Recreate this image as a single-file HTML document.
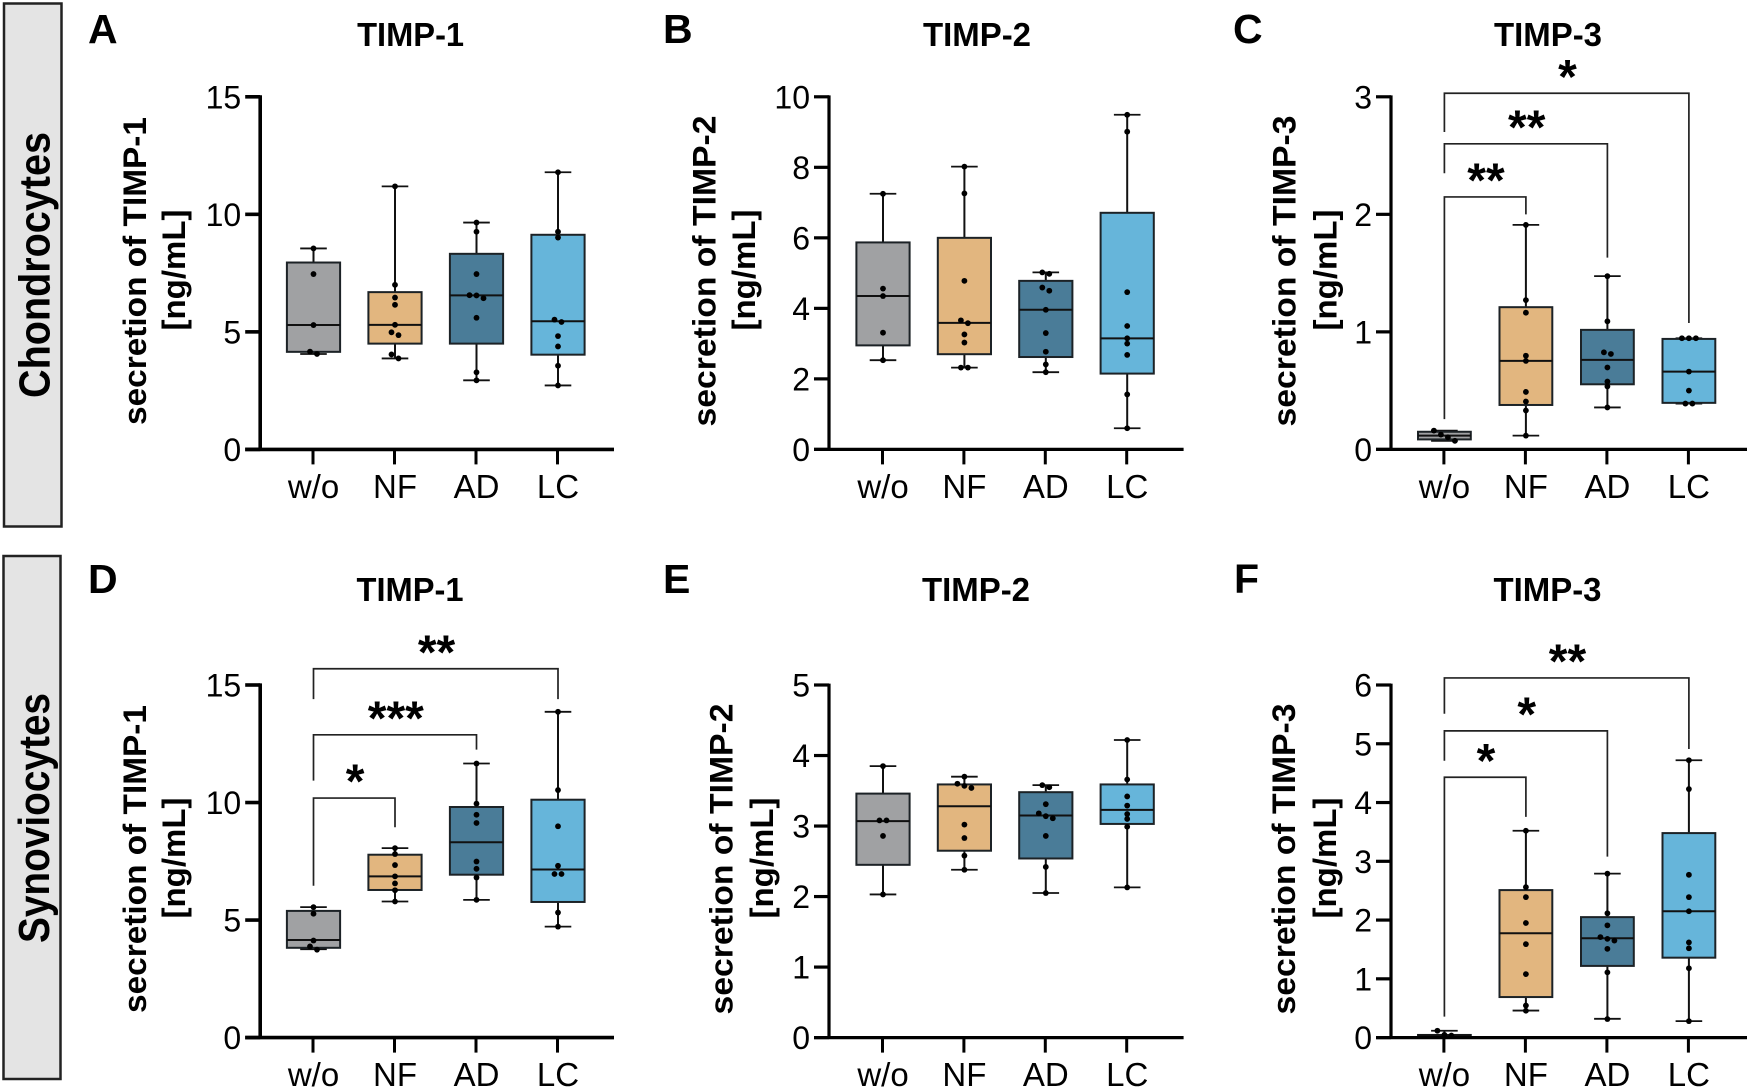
<!DOCTYPE html>
<html lang="en">
<head>
<meta charset="utf-8">
<title>TIMP secretion box plots</title>
<style>
html,body{margin:0;padding:0;background:#fff;}
svg{display:block;}
text{font-family:"Liberation Sans",Arial,sans-serif;fill:#000;}
.title{font-weight:700;font-size:33px;text-anchor:middle;}
.letter{font-weight:700;font-size:41px;}
.ytitle{font-weight:700;font-size:32px;text-anchor:middle;}
.side{font-weight:700;font-size:44px;text-anchor:middle;}
</style>
</head>
<body>
<svg id="figure" xmlns="http://www.w3.org/2000/svg" width="1748" height="1090" viewBox="0 0 1748 1090">
  <rect x="4" y="3.5" width="57.5" height="523" fill="#e4e4e4" stroke="#222" stroke-width="2.5"/>
  <text class="side" transform="translate(49.5 265) rotate(-90)" textLength="266" lengthAdjust="spacingAndGlyphs">Chondrocytes</text>
  <rect x="3.5" y="556" width="57" height="523" fill="#e4e4e4" stroke="#222" stroke-width="2.5"/>
  <text class="side" transform="translate(49 818) rotate(-90)" textLength="250" lengthAdjust="spacingAndGlyphs">Synoviocytes</text>

  <text class="letter" x="88" y="43">A</text>
  <text class="letter" x="663" y="43">B</text>
  <text class="letter" x="1233" y="43">C</text>
  <text class="letter" x="88" y="593">D</text>
  <text class="letter" x="663" y="593">E</text>
  <text class="letter" x="1234" y="593">F</text>

  <text class="title" x="410.6" y="46" textLength="107" lengthAdjust="spacingAndGlyphs">TIMP-1</text>
  <text class="title" x="977" y="46" textLength="108" lengthAdjust="spacingAndGlyphs">TIMP-2</text>
  <text class="title" x="1548" y="46" textLength="108" lengthAdjust="spacingAndGlyphs">TIMP-3</text>
  <text class="title" x="410" y="601" textLength="107" lengthAdjust="spacingAndGlyphs">TIMP-1</text>
  <text class="title" x="976" y="601" textLength="108" lengthAdjust="spacingAndGlyphs">TIMP-2</text>
  <text class="title" x="1547.5" y="601" textLength="108" lengthAdjust="spacingAndGlyphs">TIMP-3</text>

  <text class="ytitle" transform="translate(146 271) rotate(-90)" textLength="308" lengthAdjust="spacingAndGlyphs">secretion of TIMP-1</text>
  <text class="ytitle" transform="translate(185 270) rotate(-90)" textLength="121" lengthAdjust="spacingAndGlyphs">[ng/mL]</text>
  <text class="ytitle" transform="translate(715.5 271) rotate(-90)" textLength="311" lengthAdjust="spacingAndGlyphs">secretion of TIMP-2</text>
  <text class="ytitle" transform="translate(755 270) rotate(-90)" textLength="121" lengthAdjust="spacingAndGlyphs">[ng/mL]</text>
  <text class="ytitle" transform="translate(1295.5 271) rotate(-90)" textLength="311" lengthAdjust="spacingAndGlyphs">secretion of TIMP-3</text>
  <text class="ytitle" transform="translate(1336.5 270) rotate(-90)" textLength="121" lengthAdjust="spacingAndGlyphs">[ng/mL]</text>
  <text class="ytitle" transform="translate(146 859) rotate(-90)" textLength="308" lengthAdjust="spacingAndGlyphs">secretion of TIMP-1</text>
  <text class="ytitle" transform="translate(185 858) rotate(-90)" textLength="121" lengthAdjust="spacingAndGlyphs">[ng/mL]</text>
  <text class="ytitle" transform="translate(732.5 859) rotate(-90)" textLength="311" lengthAdjust="spacingAndGlyphs">secretion of TIMP-2</text>
  <text class="ytitle" transform="translate(773 858) rotate(-90)" textLength="121" lengthAdjust="spacingAndGlyphs">[ng/mL]</text>
  <text class="ytitle" transform="translate(1295 859) rotate(-90)" textLength="311" lengthAdjust="spacingAndGlyphs">secretion of TIMP-3</text>
  <text class="ytitle" transform="translate(1336 858) rotate(-90)" textLength="121" lengthAdjust="spacingAndGlyphs">[ng/mL]</text>
</svg>
<script>
const categories = ['w/o', 'NF', 'AD', 'LC'];
const categorySlugs = ['wo', 'nf', 'ad', 'lc'];
const fills = ['#a0a1a3', '#e2b67f', '#4a7c98', '#66b5da'];

const ticksA = [0, 5, 10, 15];
const ticksB = [0, 2, 4, 6, 8, 10];
const ticksC = [0, 1, 2, 3];
const ticksD = [0, 5, 10, 15];
const ticksE = [0, 1, 2, 3, 4, 5];
const ticksF = [0, 1, 2, 3, 4, 5, 6];

/* each box: [whisker low, q1, median, q3, whisker high] */
const boxesA = [[4.06, 4.15, 5.29, 7.95, 8.55], [3.87, 4.5, 5.3, 6.69, 11.19], [2.94, 4.5, 6.55, 8.32, 9.65], [2.72, 4.03, 5.45, 9.13, 11.79]];
const pointsA = [
  [8.55, 7.46, 5.29, 4.16, 4.06],
  [11.19, 7.0, 6.46, 6.15, 5.3, 4.98, 4.86, 4.04, 3.87],
  [9.65, 9.26, 7.46, 6.56, 6.55, 6.43, 5.6, 3.28, 2.94],
  [11.79, 9.26, 9.01, 5.52, 5.42, 4.82, 4.38, 3.56, 2.72]
];
const bracketsA = [];

const boxesB = [[2.53, 2.95, 4.35, 5.87, 7.25], [2.32, 2.7, 3.59, 6.0, 8.02], [2.19, 2.62, 3.96, 4.78, 5.02], [0.6, 2.15, 3.15, 6.71, 9.49]];
const pointsB = [
  [7.25, 4.56, 4.35, 3.31, 2.53],
  [8.02, 7.26, 4.78, 3.66, 3.58, 3.26, 3.03, 2.32, 2.32],
  [5.02, 4.98, 4.59, 4.5, 3.96, 3.3, 2.77, 2.41, 2.19],
  [9.49, 9.01, 4.46, 3.5, 3.15, 3.0, 2.68, 1.56, 0.6]
];
const bracketsB = [];

const boxesC = [[0.073, 0.085, 0.117, 0.15, 0.16], [0.117, 0.378, 0.753, 1.21, 1.91], [0.357, 0.554, 0.762, 1.017, 1.474], [0.39, 0.396, 0.662, 0.94, 0.946]];
const pointsC = [
  [0.16, 0.126, 0.103, 0.073],
  [1.91, 1.27, 1.163, 0.797, 0.753, 0.489, 0.407, 0.331, 0.117],
  [1.474, 1.09, 0.826, 0.812, 0.697, 0.577, 0.536, 0.357],
  [0.946, 0.946, 0.946, 0.662, 0.5, 0.39, 0.39]
];
/* each bracket: [target category index, top value, left-leg end value, right-leg end value, stars] */
const bracketsC = [[1, 2.148, 0.258, 2.0, '**'], [2, 2.6, 2.35, 1.632, '**'], [3, 3.03, 2.7, 1.075, '*']];

const boxesD = [[3.76, 3.82, 4.15, 5.39, 5.55], [5.79, 6.28, 6.86, 7.78, 8.06], [5.86, 6.93, 8.31, 9.81, 11.66], [4.72, 5.77, 7.15, 10.12, 13.86]];
const pointsD = [
  [5.55, 5.27, 4.13, 3.88, 3.74],
  [8.06, 7.81, 7.34, 6.86, 6.56, 6.27, 5.79],
  [11.66, 9.95, 9.48, 9.13, 7.49, 7.18, 6.81, 5.86],
  [13.86, 10.53, 8.99, 7.31, 6.96, 6.96, 5.32, 4.72]
];
const bracketsD = [[1, 10.19, 6.46, 8.95, '*'], [2, 12.88, 10.93, 12.25, '***'], [3, 15.69, 14.4, 14.4, '**']];

const boxesE = [[2.03, 2.45, 3.07, 3.46, 3.85], [2.38, 2.65, 3.28, 3.59, 3.7], [2.05, 2.54, 3.15, 3.48, 3.58], [2.13, 3.03, 3.23, 3.59, 4.22]];
const pointsE = [
  [3.85, 3.08, 3.08, 2.86, 2.03],
  [3.7, 3.6, 3.57, 3.54, 3.02, 2.83, 2.58, 2.38],
  [3.58, 3.55, 3.31, 3.18, 3.14, 3.11, 2.86, 2.42, 2.05],
  [4.22, 3.66, 3.42, 3.29, 3.17, 3.1, 2.99, 2.13]
];
const bracketsE = [];

const boxesF = [[0.03, 0.03, 0.04, 0.045, 0.117], [0.46, 0.69, 1.775, 2.51, 3.52], [0.32, 1.22, 1.69, 2.05, 2.79], [0.28, 1.36, 2.15, 3.48, 4.72]];
const pointsF = [
  [0.117, 0.047, 0.035],
  [3.52, 2.56, 2.39, 1.95, 1.59, 1.08, 0.545, 0.457],
  [2.79, 2.115, 1.91, 1.71, 1.68, 1.65, 1.51, 1.11, 0.316],
  [4.72, 4.23, 2.77, 2.39, 2.15, 1.62, 1.52, 1.18, 0.28]
];
const bracketsF = [[1, 4.43, 0.357, 3.756, '*'], [2, 5.22, 4.71, 3.08, '*'], [3, 6.12, 5.51, 4.91, '**']];

const svg = document.getElementById('figure');
const NS = 'http://www.w3.org/2000/svg';

function make(tag, attrs, parent) {
  const el = document.createElementNS(NS, tag);
  for (const k in attrs) el.setAttribute(k, attrs[k]);
  parent.appendChild(el);
  return el;
}

function drawPanel(id, frame, ticks, boxes, points, brackets) {
  const yMax = ticks[ticks.length - 1];
  const yScale = v => frame.y0 + (frame.yTop - frame.y0) * v / yMax;
  const xScale = i => frame.x0 + frame.step * i;

  const g = make('g', {}, svg);
  
  

  const tickLen = 15;

  categories.forEach((cat, i) => {
    const group = make('g', {}, g);
    
    
    const [lo, q1, med, q3, hi] = boxes[i];
    const cx = xScale(i);
    const whisker = make('line', {x1: cx, x2: cx, y1: yScale(lo), y2: yScale(hi), stroke: '#111', 'stroke-width': 2}, group);
    
    
    [lo, hi].forEach(v => {
      const cap = make('line', {x1: cx - 13.3, x2: cx + 13.3, y1: yScale(v), y2: yScale(v), stroke: '#111', 'stroke-width': 1.8}, group);
      
      
    });
    const rect = make('rect', {x: cx - frame.half, width: frame.half * 2, y: yScale(q3), height: Math.max(yScale(q1) - yScale(q3), 0.5), fill: fills[i], stroke: '#1c2226', 'stroke-width': 2}, group);
    
    
    const median = make('line', {x1: cx - frame.half, x2: cx + frame.half, y1: yScale(med), y2: yScale(med), stroke: '#111', 'stroke-width': 2}, group);
    
    

    const sorted = points[i].slice().sort((a, b) => b - a);
    let k = 0;
    while (k < sorted.length) {
      let e = k;
      while (e + 1 < sorted.length && yScale(sorted[e + 1]) - yScale(sorted[e]) < 4.5) e++;
      const n = e - k + 1;
      for (let j = 0; j < n; j++) {
        const dot = make('circle', {cx: cx + (j - (n - 1) / 2) * 7, cy: yScale(sorted[k + j]), r: 2.9, fill: '#000'}, group);
        
        
      }
      k = e + 1;
    }
  });

  brackets.forEach(b => {
    const [target, top, leftEnd, rightEnd, stars] = b;
    const xa = xScale(0), xb = xScale(target);
    const path = make('path', {
      d: 'M' + xa + ' ' + yScale(leftEnd) + 'V' + yScale(top) + 'H' + xb + 'V' + yScale(rightEnd),
      fill: 'none', stroke: '#222', 'stroke-width': 1.7
    }, g);
    
    
    const label = make('text', {x: (xa + xb) / 2 + 0.8, y: yScale(top) - 0.5, 'text-anchor': 'middle', 'font-size': 48, 'font-weight': 700}, g);
    label.textContent = stars;
    
    
  });

  const yAxis = make('line', {x1: frame.ax, x2: frame.ax, y1: frame.yTop - frame.sw / 2 + 0.2, y2: frame.y0, stroke: '#000', 'stroke-width': frame.sw}, g);
  
  
  const xAxis = make('line', {x1: frame.ax - tickLen, x2: frame.xEnd, y1: frame.y0, y2: frame.y0, stroke: '#000', 'stroke-width': frame.sw}, g);
  
  

  ticks.forEach(t => {
    const y = yScale(t);
    const tick = make('line', {x1: frame.ax - tickLen, x2: frame.ax, y1: y, y2: y, stroke: '#000', 'stroke-width': frame.sw}, g);
    
    
    const label = make('text', {x: frame.ax - 19, y: y + 11.5, 'text-anchor': 'end', 'font-size': 32}, g);
    label.textContent = String(t);
    
    
  });

  categories.forEach((cat, i) => {
    const cx = xScale(i);
    const tick = make('line', {x1: cx - 0.5, x2: cx - 0.5, y1: frame.y0, y2: frame.y0 + 15, stroke: '#000', 'stroke-width': 3}, g);
    
    
    const label = make('text', {x: cx, y: frame.y0 + 48.5, 'text-anchor': 'middle', 'font-size': 33}, g);
    label.textContent = cat;
    
    
  });
}

const topRow = {y0: 449.4, yTop: 96.8};
const bottomRow = {y0: 1037.6, yTop: 685};
const col1 = {ax: 260.2, xEnd: 614, x0: 313.5, step: 81.5, half: 26.6, sw: 3.6};
const col2 = {ax: 829, xEnd: 1183.6, x0: 883, step: 81.4, half: 26.6, sw: 3.2};
const col3 = {ax: 1391, xEnd: 1747, x0: 1444.4, step: 81.5, half: 26.4, sw: 3.2};

drawPanel('a', Object.assign({}, topRow, col1), ticksA, boxesA, pointsA, bracketsA);
drawPanel('b', Object.assign({}, topRow, col2), ticksB, boxesB, pointsB, bracketsB);
drawPanel('c', Object.assign({}, topRow, col3), ticksC, boxesC, pointsC, bracketsC);
drawPanel('d', Object.assign({}, bottomRow, col1), ticksD, boxesD, pointsD, bracketsD);
drawPanel('e', Object.assign({}, bottomRow, col2), ticksE, boxesE, pointsE, bracketsE);
drawPanel('f', Object.assign({}, bottomRow, col3), ticksF, boxesF, pointsF, bracketsF);
</script>
</body>
</html>
